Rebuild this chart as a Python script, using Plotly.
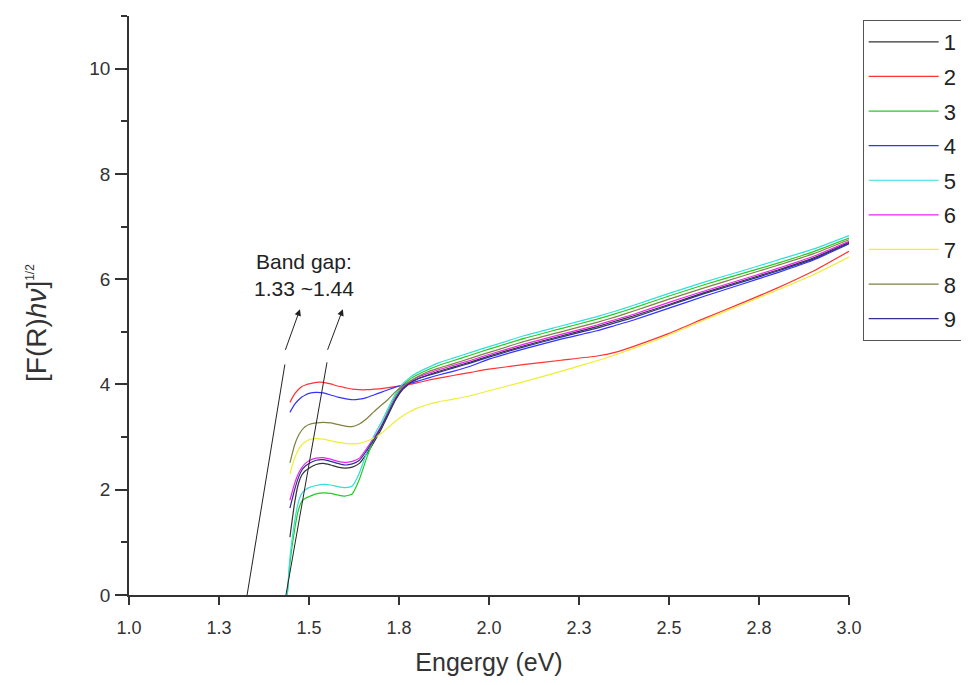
import plotly.graph_objects as go

# ---- data ----
energy = [1.44, 1.447, 1.46, 1.47, 1.48, 1.49, 1.50, 1.52, 1.54, 1.56, 1.58, 1.60, 1.62, 1.64,
          1.66, 1.68, 1.70, 1.72, 1.74, 1.76, 1.78, 1.80, 1.83, 1.86, 1.90, 1.95, 2.00, 2.10,
          2.20, 2.30, 2.35, 2.40, 2.50, 2.60, 2.70, 2.80, 2.90, 3.00]

s1 = [None, 1.1, 1.75, 2.1, 2.28, 2.36, 2.41, 2.48, 2.5, 2.47, 2.43, 2.41, 2.43, 2.5, 2.68, 2.9,
      3.14, 3.42, 3.7, 3.9, 4.02, 4.1, 4.18, 4.25, 4.33, 4.43, 4.54, 4.74, 4.92, 5.1, 5.2, 5.3,
      5.52, 5.75, 5.96, 6.17, 6.4, 6.7]
s2 = [None, 3.66, 3.82, 3.9, 3.96, 3.99, 4.01, 4.04, 4.04, 4.01, 3.97, 3.94, 3.91, 3.9, 3.9, 3.91,
      3.92, 3.94, 3.96, 3.98, 4.0, 4.03, 4.08, 4.12, 4.17, 4.23, 4.29, 4.38, 4.46, 4.54, 4.61, 4.72,
      4.97, 5.26, 5.54, 5.83, 6.15, 6.53]
s3 = [0.04, 0.6, 1.24, 1.6, 1.78, 1.84, 1.87, 1.92, 1.94, 1.93, 1.9, 1.88, 1.92, 2.2, 2.6, 2.95,
      3.2, 3.5, 3.78, 3.98, 4.1, 4.18, 4.28, 4.36, 4.45, 4.56, 4.67, 4.88, 5.06, 5.24, 5.34, 5.45,
      5.68, 5.9, 6.1, 6.3, 6.52, 6.78]
s4 = [None, 3.47, 3.62, 3.7, 3.76, 3.8, 3.83, 3.85, 3.84, 3.8, 3.76, 3.73, 3.71, 3.72, 3.75, 3.8,
      3.85, 3.9, 3.95, 3.99, 4.02, 4.06, 4.12, 4.18, 4.25, 4.35, 4.48, 4.68, 4.86, 5.02, 5.12, 5.22,
      5.45, 5.68, 5.9, 6.12, 6.36, 6.67]
s5 = [0.0, 0.7, 1.4, 1.75, 1.93, 2.0, 2.04, 2.08, 2.1, 2.09, 2.06, 2.04, 2.07, 2.32, 2.7, 3.02,
      3.27, 3.55, 3.82, 4.01, 4.13, 4.22, 4.32, 4.41, 4.5, 4.61, 4.72, 4.93, 5.11, 5.29, 5.39, 5.5,
      5.73, 5.95, 6.15, 6.36, 6.57, 6.83]
s6 = [None, 1.8, 2.12, 2.3, 2.42, 2.5, 2.55, 2.6, 2.61, 2.58, 2.54, 2.52, 2.54, 2.6, 2.78, 2.98,
      3.2, 3.47, 3.74, 3.94, 4.05, 4.13, 4.21, 4.28, 4.36, 4.46, 4.57, 4.77, 4.95, 5.13, 5.23, 5.33,
      5.56, 5.78, 5.99, 6.2, 6.43, 6.72]
s7 = [None, 2.3, 2.6, 2.75, 2.85, 2.91, 2.95, 2.97, 2.96, 2.93, 2.9, 2.88, 2.87, 2.88, 2.92, 2.98,
      3.07, 3.18, 3.3, 3.4, 3.48, 3.55, 3.62, 3.67, 3.72, 3.79, 3.88, 4.06, 4.25, 4.45, 4.56, 4.68,
      4.94, 5.23, 5.51, 5.79, 6.08, 6.42]
s8 = [None, 2.51, 2.85, 3.02, 3.13, 3.2, 3.24, 3.27, 3.28, 3.27, 3.24, 3.21, 3.2, 3.25, 3.35, 3.48,
      3.6, 3.72, 3.86, 3.97, 4.06, 4.14, 4.24, 4.31, 4.39, 4.5, 4.61, 4.82, 5.0, 5.18, 5.28, 5.39,
      5.62, 5.84, 6.05, 6.26, 6.48, 6.75]
s9 = [None, 1.65, 2.0, 2.22, 2.37, 2.45, 2.5, 2.56, 2.57, 2.54, 2.5, 2.47, 2.49, 2.56, 2.74, 2.95,
      3.18, 3.45, 3.72, 3.92, 4.03, 4.1, 4.17, 4.23, 4.31, 4.41, 4.52, 4.72, 4.9, 5.07, 5.17, 5.27,
      5.5, 5.73, 5.94, 6.15, 6.38, 6.68]

series_names = ["1", "2", "3", "4", "5", "6", "7", "8", "9"]
series_values = [s1, s2, s3, s4, s5, s6, s7, s8, s9]

# tangent lines (band-gap extrapolation) : x0, y0, x1, y1
tangent_left = [1.328, 0.0, 1.433, 4.38]
tangent_right = [1.436, 0.0, 1.550, 4.42]
# arrows: tail (x, y) -> tip (x, y)
arrow_left = [1.433, 4.63, 1.475, 5.43]
arrow_right = [1.550, 4.63, 1.594, 5.43]

x_tickvals = [1.0, 1.25, 1.5, 1.75, 2.0, 2.25, 2.5, 2.75, 3.0]
x_ticktext = ["1.0", "1.3", "1.5", "1.8", "2.0", "2.3", "2.5", "2.8", "3.0"]
y_tickvals = [0, 2, 4, 6, 8, 10]

colors = ["#333333", "#ff3333", "#22cc22", "#3333ff", "#33dddd",
          "#ee22ee", "#eeee33", "#808040", "#303090"]

FONT = "Liberation Sans, Arial, sans-serif"

fig = go.Figure()
for name, vals, col in zip(series_names, series_values, colors):
    fig.add_trace(go.Scatter(
        x=energy, y=vals, name=name, mode="lines",
        line=dict(color=col, width=1.2, shape="spline", smoothing=0.5),
        legendgroup=name, connectgaps=False,
    ))

for t in (tangent_left, tangent_right):
    fig.add_shape(type="line", xref="x", yref="y", x0=t[0], y0=t[1], x1=t[2], y1=t[3],
                  line=dict(color="#222222", width=1))

for a in (arrow_left, arrow_right):
    fig.add_annotation(x=a[2], y=a[3], ax=a[0], ay=a[1], xref="x", yref="y",
                       axref="x", ayref="y", text="", showarrow=True,
                       arrowhead=2, arrowsize=1.3, arrowwidth=1, arrowcolor="#222222")

fig.add_annotation(x=1.485, y=6.33, xref="x", yref="y", text="Band gap:",
                   showarrow=False, font=dict(family=FONT, size=21, color="#222222"))
fig.add_annotation(x=1.485, y=5.82, xref="x", yref="y", text="1.33 ~1.44",
                   showarrow=False, font=dict(family=FONT, size=21, color="#222222"))

# y-axis title drawn as a rotated annotation (placed like the reference)
fig.add_annotation(
    x=-0.152, y=0.47, xref="paper", yref="paper", showarrow=False, textangle=-90,
    text="[F(R)<i>hν</i>]<sup><span style='font-size:12px'>1/2</span></sup>",
    font=dict(family=FONT, size=28, color="#333333"),
)

fig.update_layout(
    width=969, height=685,
    margin=dict(l=121, r=128, t=8, b=98),
    paper_bgcolor="white", plot_bgcolor="white",
    font=dict(family=FONT, color="#333333"),
    showlegend=True,
    legend=dict(
        x=1.019, y=0.993, xanchor="left", yanchor="top",
        bordercolor="#555555", borderwidth=1, bgcolor="white",
        font=dict(family=FONT, size=22, color="#222222"),
        itemwidth=70, tracegroupgap=3,
    ),
    xaxis=dict(
        range=[1.0, 3.0], tickvals=x_tickvals, ticktext=x_ticktext,
        ticks="outside", ticklen=8, tickwidth=1.5, tickcolor="#333333",
        ticklabelstandoff=8,
        showline=True, linecolor="#333333", linewidth=1.5,
        showgrid=False, zeroline=False,
        tickfont=dict(family=FONT, size=18, color="#333333"),
        title=dict(text="Engergy (eV)", font=dict(family=FONT, size=25, color="#333333"),
                   standoff=16),
    ),
    yaxis=dict(
        range=[0, 11], tickvals=y_tickvals,
        ticks="outside", ticklen=12, tickwidth=1.5, tickcolor="#333333",
        ticklabelstandoff=1,
        minor=dict(dtick=1, tick0=0, ticks="outside", ticklen=6, tickwidth=1.5,
                   tickcolor="#333333"),
        showline=True, linecolor="#333333", linewidth=1.5,
        showgrid=False, zeroline=False,
        tickfont=dict(family=FONT, size=19, color="#333333"),
    ),
)

fig.write_html("out.html")
